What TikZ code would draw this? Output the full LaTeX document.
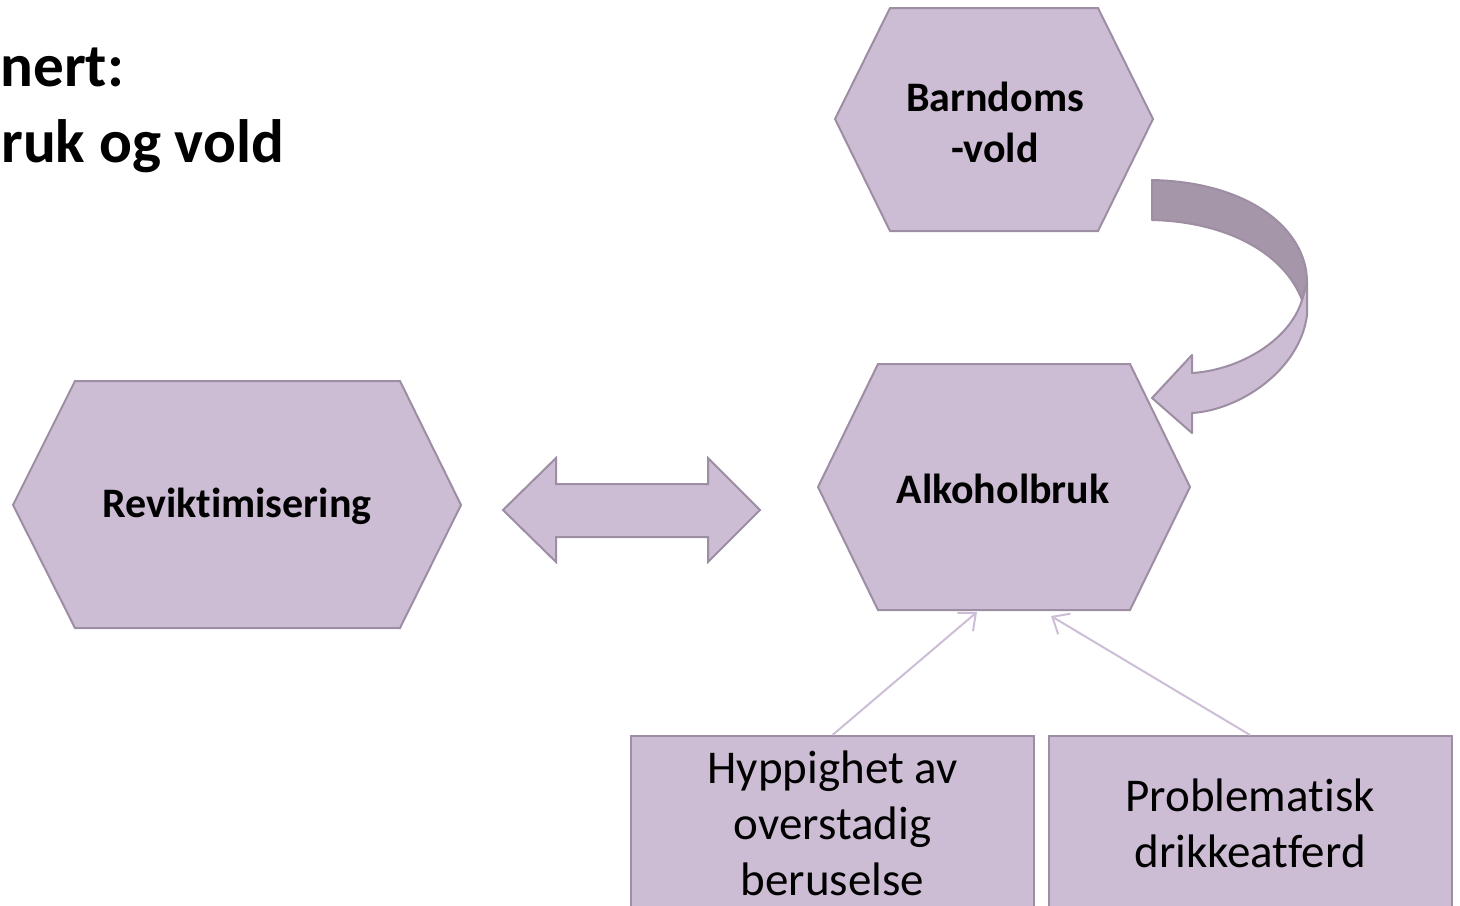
\documentclass[tikz,border=0pt]{standalone}
\usepackage{fontspec}
\setmainfont{Carlito}[Ligatures={NoCommon,NoRequired,NoContextual}]
\usetikzlibrary{arrows.meta}
\definecolor{lilac}{RGB}{204,188,212}
\definecolor{lilacedge}{RGB}{158,142,163}
\definecolor{lilacdark}{RGB}{165,150,170}
\definecolor{thinarrow}{RGB}{205,190,215}
\begin{document}
\begin{tikzpicture}[x=0.5pt,y=-0.5pt,
  lilacfill/.style={fill=lilac,draw=lilacedge,line width=1pt,line join=miter},
  darkfill/.style={fill=lilacdark,draw=lilacedge,line width=1pt,line join=round},
  hextext/.style={font=\fontsize{21}{25.5}\selectfont\bfseries,align=center,inner sep=0pt},
  titletext/.style={font=\fontsize{30.6}{36}\selectfont\bfseries,anchor=base west,inner sep=0pt},
  boxnode/.style={rectangle,fill=lilac,draw=lilacedge,line width=1pt,minimum width=201.5pt,minimum height=87pt,align=center,font=\fontsize{23.5}{28}\selectfont,inner sep=0pt},
  thinlink/.style={draw=thinarrow,line width=1pt,-{Straight Barb[length=7pt,width=12pt]}}]
\useasboundingbox (0,0) rectangle (1460,905);

% title
\node[titletext] (t1) at (0,86) {nert:};
\node[titletext] (t2) at (1,162) {ruk og vold};

% hexagons
\draw[lilacfill] (890,8) -- (1098,8) -- (1153,119) -- (1098,231) -- (890,231) -- (835,119) -- cycle;
\node[hextext] (barn) at (995,122) {Barndoms\\-vold};

\draw[lilacfill] (878,364) -- (1130,364) -- (1190,487) -- (1130,610) -- (878,610) -- (818,487) -- cycle;
\node[hextext] (alk) at (1003,489) {Alkoholbruk};

\draw[lilacfill] (75,381) -- (400,381) -- (461,505) -- (400,628) -- (75,628) -- (13,505) -- cycle;
\node[hextext] (rev) at (237,506) {Reviktimisering};

% double arrow
\draw[lilacfill] (503,510) -- (556,458) -- (556,484) -- (708,484) -- (708,458) -- (760,510) -- (708,562) -- (708,537) -- (556,537) -- (556,562) -- cycle;

% curved arrow
\draw[lilacfill,line join=round] (1302,300) -- (1307,282) -- (1307,315) .. controls (1300,370) and (1240,410) .. (1192,413) -- (1192,433) -- (1152,398) -- (1192,355) -- (1192,373) .. controls (1240,370) and (1290,340) .. (1302,300) -- cycle;
\draw[darkfill] (1152,180) .. controls (1250,182) and (1307,230) .. (1307,282) -- (1302,300) .. controls (1285,255) and (1230,222) .. (1152,220) -- cycle;

% boxes
\node[boxnode] (b1) at (832.5,823) {Hyppighet av\\overstadig\\beruselse};
\node[boxnode] (b2) at (1250,823) {Problematisk\\drikkeatferd};

% thin arrows
\coordinate (a1) at (977,612);
\coordinate (a2) at (1051,616);
\draw[thinlink] (b1.north) -- (a1);
\draw[thinlink] (b2.north) -- (a2);
\end{tikzpicture}
\end{document}
